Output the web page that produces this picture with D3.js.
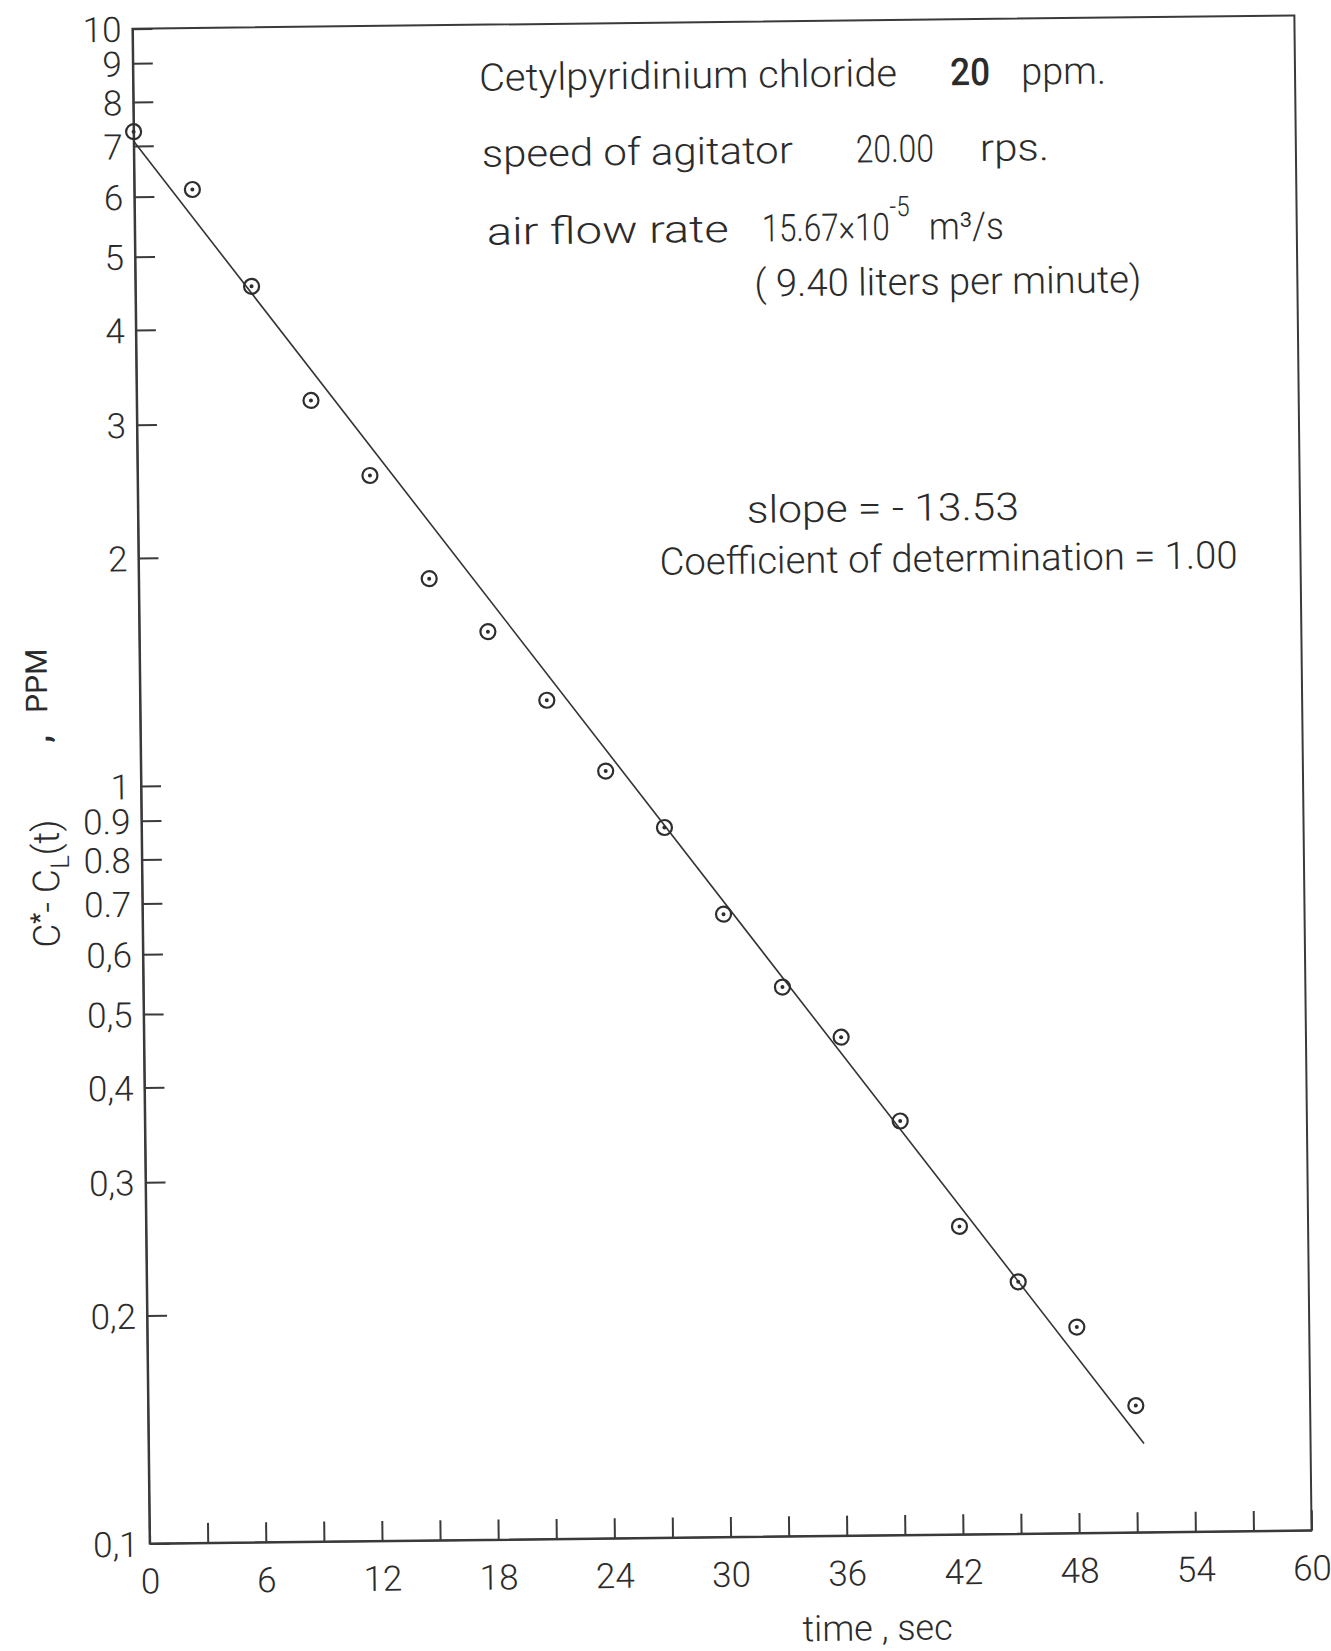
<!DOCTYPE html>
<html>
<head>
<meta charset="utf-8">
<script src="https://cdn.jsdelivr.net/npm/d3@7"></script>
<style>
    body { margin: 0; background: #fff; }
    text { font-family: Roboto, 'Open Sans', 'DejaVu Sans', sans-serif; font-weight: 300; fill: #2b2b2b; }
</style>
</head>
<body>
<svg id="kla_plot_svg" width="1331" height="1651"></svg>
<script>
// measured points, time in sec and C* - CL(t) in ppm
const times = [0, 3, 6, 9, 12, 15, 18, 21, 24, 27, 30, 33, 36, 39, 42, 45, 48, 51];
const conc = [7.31, 6.12, 4.55, 3.21, 2.55, 1.86, 1.58, 1.28, 1.03, 0.866, 0.664, 0.531, 0.455, 0.352, 0.255, 0.215, 0.187, 0.147];

// fitted straight line (ends)
const fitTimes = [0, 51.4];
const fitConc = [7.1, 0.131];

const xTickValues = [0, 3, 6, 9, 12, 15, 18, 21, 24, 27, 30, 33, 36, 39, 42, 45, 48, 51, 54, 57, 60];
const xLabelValues = [0, 6, 12, 18, 24, 30, 36, 42, 48, 54, 60];
const yTickValues = [0.1, 0.2, 0.3, 0.4, 0.5, 0.6, 0.7, 0.8, 0.9, 1, 2, 3, 4, 5, 6, 7, 8, 9, 10];
const yTickLabels = ['0,1', '0,2', '0,3', '0,4', '0,5', '0,6', '0.7', '0.8', '0.9', '1', '2', '3', '4', '5', '6', '7', '8', '9', '10'];

const svg = d3.select('#kla_plot_svg');
const svgWidth = +svg.attr('width');
const svgHeight = +svg.attr('height');

const margin = {top: 22, right: 28, bottom: 114, left: 141};
const innerWidth = svgWidth - margin.left - margin.right;
const innerHeight = svgHeight - margin.top - margin.bottom;

// the scanned sheet sits slightly crooked
const plotG = svg.append('g')
    .attr('transform', 'rotate(-0.65, 722, 780)');

const xScale = d3.scaleLinear()
    .domain([0, 60])
    .range([margin.left, margin.left + innerWidth]);

const yScale = d3.scaleLog()
    .domain([0.1, 10])
    .range([margin.top + innerHeight, margin.top]);

// frame
plotG.append('rect')
    .attr('x', margin.left)
    .attr('y', margin.top)
    .attr('width', innerWidth)
    .attr('height', innerHeight)
    .attr('fill', 'none')
    .attr('stroke', '#3a3a3a')
    .attr('stroke-width', 2);

const xAxis = d3.axisBottom(xScale)
    .tickValues(xTickValues)
    .tickSizeInner(-20)
    .tickSizeOuter(0)
    .tickPadding(25)
    .tickFormat(d => xLabelValues.includes(d) ? d : '');

const xAxisG = plotG.append('g')
    .attr('transform', `translate(0, ${margin.top + innerHeight})`)
    .call(xAxis);

const yAxis = d3.axisLeft(yScale)
    .tickValues(yTickValues)
    .tickSizeInner(-20)
    .tickSizeOuter(0)
    .tickPadding(11)
    .tickFormat((d, i) => yTickLabels[i]);

const yAxisG = plotG.append('g')
    .attr('transform', `translate(${margin.left}, 0)`)
    .call(yAxis);

[xAxisG, yAxisG].forEach(g => {
    g.selectAll('path, line').attr('stroke', '#3a3a3a').attr('stroke-width', 2);
    g.selectAll('text')
        .style('font-family', "Roboto, 'Open Sans', sans-serif")
        .style('font-weight', 300)
        .style('font-size', '35px')
        .attr('fill', '#2b2b2b');
});
yAxisG.selectAll('text').attr('dy', '0.36em');
// only every second x tick carries a number
xAxisG.selectAll('text').filter(function () { return this.textContent === ''; }).remove();

// fitted line
const fitLine = d3.line()
    .x(d => xScale(d.t))
    .y(d => yScale(d.c));

plotG.append('path')
    .datum(fitTimes.map((t, i) => ({t: t, c: fitConc[i]})))
    .attr('d', fitLine)
    .attr('fill', 'none')
    .attr('stroke', '#333')
    .attr('stroke-width', 1.6);

// data points: circle with a dot in it
const points = times.map((t, i) => ({t: t, c: conc[i]}));

plotG.selectAll('.pt_ring')
    .data(points)
    .enter()
    .append('circle')
    .attr('class', 'pt_ring')
    .attr('cx', d => xScale(d.t))
    .attr('cy', d => yScale(d.c))
    .attr('r', 7.5)
    .attr('fill', 'none')
    .attr('stroke', '#2e2e2e')
    .attr('stroke-width', 2.2);

plotG.selectAll('.pt_dot')
    .data(points)
    .enter()
    .append('circle')
    .attr('class', 'pt_dot')
    .attr('cx', d => xScale(d.t))
    .attr('cy', d => yScale(d.c))
    .attr('r', 2)
    .attr('fill', '#2e2e2e');

// axis titles
plotG.append('text')
    .attr('x', 868)
    .attr('y', 1642)
    .attr('text-anchor', 'middle')
    .style('font-size', '36px')
    .text('time , sec');

const yTitle = plotG.append('text')
    .attr('transform', 'translate(58, 940) rotate(-90)')
    .style('font-size', '37px');
yTitle.append('tspan').text('C');
yTitle.append('tspan').attr('dy', -12).style('font-size', '24px').style('font-weight', 700).text('*');
yTitle.append('tspan').attr('dy', 12).text('- C');
yTitle.append('tspan').attr('dy', 10).style('font-size', '26px').text('L');
yTitle.append('tspan').attr('dy', -10).text('(t)');

plotG.append('text')
    .attr('transform', 'translate(50, 735) rotate(-90)')
    .style('font-size', '32px')
    .style('font-weight', 700)
    .text(',');

plotG.append('text')
    .attr('transform', 'translate(48, 705) rotate(-90)')
    .style('font-size', '30px')
    .style('font-weight', 400)
    .text('PPM');

// annotations, squeezed to the widths
const note = (x, y, txt, len, size, weight) => plotG.append('text')
    .attr('x', x)
    .attr('y', y)
    .attr('textLength', len)
    .attr('lengthAdjust', 'spacingAndGlyphs')
    .style('font-size', `${size}px`)
    .style('font-weight', weight || 300)
    .text(txt);

note(487, 88, 'Cetylpyridinium chloride', 418, 38);
note(958, 88, '20', 40, 38, 500);
note(1029, 88, 'ppm.', 85, 38);

note(489, 164, 'speed of agitator', 311, 38);
note(863, 164, '20.00', 78, 38);
note(987, 164, 'rps.', 69, 38);

note(493, 242, 'air flow rate', 242, 38);
note(768, 242, '15.67×10', 128, 38);
note(896, 218, '-5', 20, 28);
note(935, 242, 'm³/s', 75, 38);

note(760, 297, '( 9.40  liters per minute)', 387, 38);

note(750, 523, 'slope = - 13.53', 272, 38);
note(662, 574, 'Coefficient of determination = 1.00', 578, 38);
</script>
</body>
</html>
